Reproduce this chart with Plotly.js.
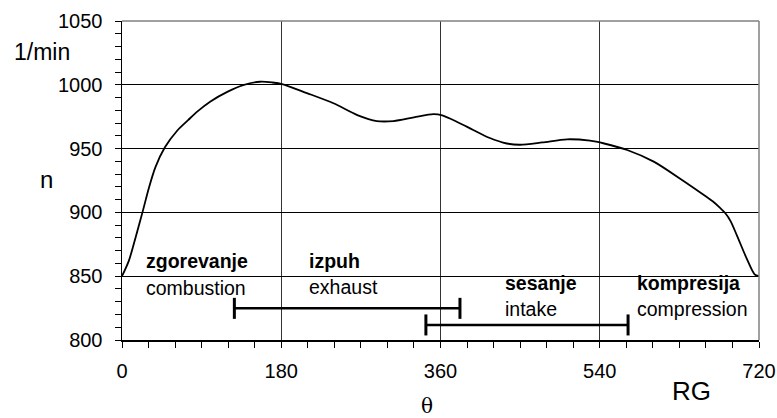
<!DOCTYPE html>
<html>
<head>
<meta charset="utf-8">
<script src="https://cdn.plot.ly/plotly-3.0.1.min.js"></script>
<style>html,body{margin:0;padding:0;background:#fff;}#chart{width:777px;height:418px;}</style>
</head>
<body>
<div id="chart"></div>
<script>
// Crank angle (deg) and engine speed n (1/min)
const angle = [0, 7.7, 15.2, 23.5, 30.3, 37.8, 48.5, 62.3, 75, 85, 100, 119, 137, 156, 170, 181, 209, 239, 266, 288, 307, 330, 352, 362, 380, 397, 415, 435, 450, 475, 503, 529, 545, 571, 601, 633, 661, 668, 676, 682, 688, 695, 706, 715, 720];
const speed = [850, 862, 880, 901, 919, 935.5, 951, 964, 972.5, 979, 987, 994.5, 999.8, 1002.4, 1001.8, 1000.6, 993.5, 985.5, 976.3, 971.6, 971.6, 974.5, 977, 976, 970.5, 964.6, 958.5, 954, 953, 954.8, 957.3, 956.2, 954, 948.9, 939.8, 925.4, 912, 908.5, 903.5, 899.3, 893, 882, 864, 851.5, 850];

// Stroke intervals (horizontal bars)
const bar1X = [127, 382];
const bar1Y = [824.8, 824.8];
const bar2X = [343.5, 572];
const bar2Y = [811.8, 811.8];

// Tick labels
const xTicks = [0, 180, 360, 540, 720];
const yTicks = [800, 850, 900, 950, 1000, 1050];

// Stroke labels
const phaseBold = ["zgorevanje", "izpuh", "sesanje", "kompresija"];
const phaseEn = ["combustion", "exhaust", "intake", "compression"];
const phaseX = [24.3, 209.5, 430.9, 580];
const phaseYBold = [862, 862, 845, 845];
const phaseYEn = [840.8, 841.5, 824.3, 824.3];

const font = "Liberation Sans, Arial, sans-serif";

const traces = [
  {x: angle, y: speed, type: 'scatter', mode: 'lines', line: {color: '#000', width: 1.8, shape: 'spline', smoothing: 0.8}, hoverinfo: 'skip'},
  {x: bar1X, y: bar1Y, type: 'scatter', mode: 'lines+markers', line: {color: '#000', width: 2.5},
   marker: {symbol: 'line-ns', size: 15, line: {color: '#000', width: 3}}, cliponaxis: false},
  {x: bar2X, y: bar2Y, type: 'scatter', mode: 'lines+markers', line: {color: '#000', width: 2.5},
   marker: {symbol: 'line-ns', size: 15, line: {color: '#000', width: 3}}, cliponaxis: false}
];

const annotations = [];
for (let i = 0; i < phaseBold.length; i++) {
  annotations.push({x: phaseX[i], y: phaseYBold[i], xref: 'x', yref: 'y', text: '<b>' + phaseBold[i] + '</b>',
    showarrow: false, xanchor: 'left', yanchor: 'middle', font: {family: font, size: 19.5, color: '#000'}});
  annotations.push({x: phaseX[i], y: phaseYEn[i], xref: 'x', yref: 'y', text: phaseEn[i],
    showarrow: false, xanchor: 'left', yanchor: 'middle', font: {family: font, size: 19.5, color: '#000'}});
}
// Axis captions
annotations.push({x: (41 - 121.5) / 637.5, y: (340 - 52) / 319, xref: 'paper', yref: 'paper', text: '1/min', showarrow: false,
  xanchor: 'center', yanchor: 'middle', font: {family: font, size: 23, color: '#000'}});
annotations.push({x: (45.5 - 121.5) / 637.5, y: (340 - 179) / 319, xref: 'paper', yref: 'paper', text: 'n', showarrow: false,
  xanchor: 'center', yanchor: 'middle', font: {family: font, size: 24, color: '#000'}});
annotations.push({x: (691 - 121.5) / 637.5, y: (340 - 391) / 319, xref: 'paper', yref: 'paper', text: 'RG', showarrow: false,
  xanchor: 'center', yanchor: 'middle', font: {family: font, size: 26, color: '#000'}});
annotations.push({x: (427 - 121.5) / 637.5, y: (340 - 419) / 319, xref: 'paper', yref: 'paper', text: 'θ', showarrow: false,
  xanchor: 'center', yanchor: 'bottom', borderpad: 0, font: {family: 'DejaVu Serif, Liberation Serif, serif', size: 20, color: '#000'}});

const layout = {
  width: 777, height: 418,
  margin: {l: 121.5, r: 18, t: 21, b: 78},
  paper_bgcolor: '#fff', plot_bgcolor: '#fff',
  showlegend: false,
  xaxis: {
    range: [0, 720], tickvals: xTicks, ticktext: xTicks.map(String),
    showgrid: true, gridcolor: '#333', gridwidth: 1,
    showline: true, linecolor: '#000', linewidth: 1.5,
    ticks: 'outside', ticklen: 6, tickcolor: '#000', tickwidth: 1,
    minor: {dtick: 30, tick0: 0, ticks: 'outside', ticklen: 6, tickcolor: '#000', tickwidth: 1, showgrid: false},
    zeroline: false, ticklabelstandoff: 6,
    tickfont: {family: font, size: 20, color: '#000'}, fixedrange: true
  },
  yaxis: {
    range: [800, 1050], tickvals: yTicks, ticktext: yTicks.map(String),
    showgrid: true, gridcolor: '#000', gridwidth: 1,
    showline: true, linecolor: '#000', linewidth: 1.5,
    ticks: 'outside', ticklen: 6, tickcolor: '#000', tickwidth: 1,
    minor: {dtick: 10, tick0: 800, ticks: 'outside', ticklen: 6, tickcolor: '#000', tickwidth: 1, showgrid: false},
    zeroline: false, ticklabelstandoff: 8,
    tickfont: {family: font, size: 20, color: '#000'}, fixedrange: true
  },
  shapes: [
    {type: 'line', xref: 'paper', yref: 'paper', x0: 0, x1: 1, y0: 1, y1: 1, line: {color: '#808080', width: 1.5}},
    {type: 'line', xref: 'paper', yref: 'paper', x0: 1, x1: 1, y0: 0, y1: 1, line: {color: '#808080', width: 1.5}}
  ],
  annotations: annotations
};

Plotly.newPlot('chart', traces, layout, {staticPlot: true, displayModeBar: false});
</script>
</body>
</html>
